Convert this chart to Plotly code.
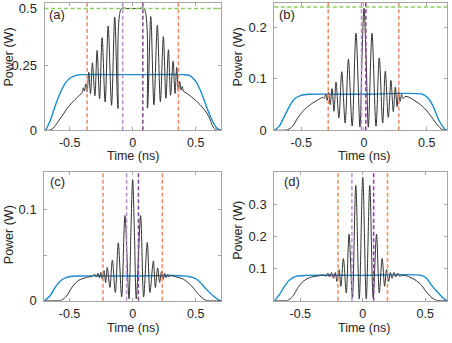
import plotly.graph_objects as go

W, H = 452, 343

# ---------------- data ----------------
# panel (a)
A_bt = [-0.70, -0.66, -0.64, -0.62, -0.59, -0.55, -0.51, -0.46, -0.42, -0.40,
        -0.392, -0.383, -0.373, -0.362, -0.349, -0.335, -0.320, -0.300, -0.283, -0.263, -0.243, -0.219, -0.195, -0.168, -0.143, -0.117,
        -0.090, -0.045, 0.0, 0.045, 0.090,
        0.117, 0.143, 0.168, 0.195, 0.219, 0.243, 0.263, 0.283, 0.300, 0.320, 0.335, 0.349, 0.362, 0.373, 0.383, 0.393, 0.402,
        0.43, 0.48, 0.534, 0.587, 0.61, 0.627, 0.645, 0.66, 0.68, 0.70]
A_bp = [0, 0, 0.004, 0.014, 0.035, 0.063, 0.092, 0.118, 0.137, 0.147,
        0.165, 0.152, 0.180, 0.150, 0.225, 0.142, 0.262, 0.134, 0.310, 0.123, 0.360, 0.110, 0.405, 0.097, 0.440, 0.084,
        0.473, 0.473, 0.473, 0.473, 0.473,
        0.086, 0.442, 0.099, 0.408, 0.111, 0.364, 0.124, 0.313, 0.136, 0.269, 0.143, 0.244, 0.152, 0.190, 0.156, 0.170, 0.152,
        0.143, 0.124, 0.099, 0.067, 0.045, 0.023, 0.008, 0.001, 0, 0]
A_ct = [-0.70, -0.69, -0.656, -0.617, -0.577, -0.537, -0.497, -0.45, -0.40, 0.0, 0.40, 0.45, 0.50, 0.545, 0.59, 0.63, 0.665, 0.695, 0.70]
A_cp = [0, 0.002, 0.036, 0.092, 0.143, 0.181, 0.203, 0.213, 0.216, 0.216, 0.216, 0.213, 0.19, 0.145, 0.085, 0.038, 0.01, 0, 0]

# panel (b)
B_bt = [-0.715, -0.64, -0.608, -0.568, -0.528, -0.475, -0.409, -0.36, -0.33,
        -0.316, -0.305, -0.294, -0.283, -0.269, -0.255, -0.239, -0.223, -0.200, -0.177, -0.150, -0.124, -0.094, -0.064, -0.032,
        -0.016, 0.0, 0.017,
        0.035, 0.064, 0.096, 0.122, 0.149, 0.170, 0.194, 0.215, 0.234, 0.250, 0.264, 0.276, 0.288, 0.300, 0.31,
        0.335, 0.415, 0.482, 0.535, 0.574, 0.614, 0.64, 0.665]
B_bp = [0, 0, 0.001, 0.008, 0.024, 0.040, 0.053, 0.060, 0.064,
        0.062, 0.070, 0.058, 0.074, 0.050, 0.081, 0.037, 0.094, 0.024, 0.114, 0.014, 0.138, 0.008, 0.189, 0.006,
        0.140, 0.238, 0.140,
        0.006, 0.189, 0.008, 0.141, 0.014, 0.115, 0.025, 0.097, 0.036, 0.084, 0.046, 0.075, 0.056, 0.07, 0.062,
        0.066, 0.056, 0.043, 0.027, 0.014, 0.003, 0, 0]
B_ct = [-0.715, -0.675, -0.635, -0.595, -0.555, -0.502, -0.44, 0.0, 0.468, 0.51, 0.547, 0.600, 0.635, 0.653, 0.665]
B_cp = [0, 0.008, 0.027, 0.046, 0.061, 0.068, 0.070, 0.070, 0.070, 0.063, 0.049, 0.018, 0.005, 0, 0]

# panel (c)
C_bt = [-0.70, -0.60, -0.563, -0.524, -0.484, -0.431, -0.365, -0.32,
        -0.30, -0.288, -0.275, -0.263, -0.252, -0.240, -0.227, -0.214, -0.201, -0.180, -0.161, -0.137, -0.114, -0.087, -0.061, -0.029,
        -0.014, 0.0, 0.014,
        0.029, 0.063, 0.087, 0.116, 0.137, 0.164, 0.180, 0.198, 0.214, 0.229, 0.242, 0.254, 0.266, 0.278, 0.290, 0.302,
        0.322, 0.402, 0.468, 0.521, 0.574, 0.60, 0.70]
C_bp = [0, 0, 0.0005, 0.005, 0.014, 0.022, 0.0255, 0.027,
        0.029, 0.026, 0.030, 0.025, 0.031, 0.0235, 0.033, 0.020, 0.0364, 0.0145, 0.0446, 0.009, 0.0636, 0.004, 0.0935, 0.002,
        0.075, 0.133, 0.075,
        0.002, 0.0935, 0.004, 0.064, 0.009, 0.0436, 0.0145, 0.036, 0.020, 0.032, 0.0235, 0.030, 0.025, 0.029, 0.026, 0.028,
        0.027, 0.0235, 0.016, 0.007, 0.0007, 0, 0]
C_ct = [-0.70, -0.656, -0.617, -0.577, -0.524, -0.445, 0.0, 0.428, 0.508, 0.574, 0.640, 0.693, 0.70]
C_cp = [0, 0.005, 0.014, 0.021, 0.0255, 0.027, 0.027, 0.027, 0.0235, 0.014, 0.005, 0, 0]

# panel (d)
D_bt = [-0.708, -0.62, -0.60, -0.561, -0.521, -0.481, -0.428, -0.348, -0.31,
        -0.295, -0.28, -0.265, -0.25, -0.235, -0.22, -0.207, -0.19, -0.175, -0.155, -0.132, -0.11, -0.083, -0.056, -0.028,
        0.0,
        0.028, 0.056, 0.083, 0.11, 0.132, 0.155, 0.175, 0.19, 0.207, 0.22, 0.235, 0.25, 0.265, 0.28, 0.295,
        0.31, 0.348, 0.385, 0.43, 0.47, 0.50, 0.53, 0.56, 0.59, 0.61, 0.675]
D_bp = [0, 0, 0.001, 0.013, 0.039, 0.059, 0.072, 0.078, 0.080,
        0.076, 0.086, 0.074, 0.088, 0.07, 0.088, 0.06, 0.097, 0.045, 0.132, 0.024, 0.208, 0.009, 0.361, 0.005,
        0.386,
        0.005, 0.361, 0.009, 0.208, 0.024, 0.132, 0.045, 0.097, 0.06, 0.088, 0.07, 0.088, 0.074, 0.086, 0.076,
        0.079, 0.078, 0.072, 0.062, 0.048, 0.032, 0.018, 0.007, 0.001, 0, 0]
D_ct = [-0.708, -0.668, -0.628, -0.588, -0.535, -0.455, 0.0, 0.47, 0.51, 0.545, 0.599, 0.652, 0.675]
D_cp = [0, 0.018, 0.044, 0.064, 0.076, 0.079, 0.079, 0.079, 0.07, 0.051, 0.026, 0.005, 0]

# marker lines
A_orange = [-0.362, 0.362]; A_purple = [-0.08, 0.08]; A_green = 0.473
B_orange = [-0.285, 0.278]; B_purple = [-0.02, 0.015]; B_green = 0.240
C_orange = [-0.235, 0.235]; C_purple = [-0.048, 0.046]; C_green = None
D_orange = [-0.198, 0.198]; D_purple = [-0.087, 0.087]; D_green = None

# axis setup
X_TICKS = [-0.5, 0, 0.5]
X_TEXT = ["-0.5", "0", "0.5"]
A_yt = [0, 0.25, 0.473]; A_ytxt = ["0", "0.25", "0.5"]
B_yt = [0, 0.1, 0.2]; B_ytxt = ["0", "0.1", "0.2"]
C_yt = [0, 0.05, 0.1]; C_ytxt = ["0", "", "0.1"]
D_yt = [0, 0.1, 0.2, 0.3]; D_ytxt = ["", "0.1", "0.2", "0.3"]

panels = [
    dict(lab="(a)", bt=A_bt, bp=A_bp, ct=A_ct, cp=A_cp, orange=A_orange, purple=A_purple, green=A_green,
         xr=[-0.70, 0.70], yr=[0, 0.496], yt=A_yt, ytxt=A_ytxt,
         px=(44.5, 221), py=(1.7, 132.7), labpos=(57, 14), ylab=(9, 58), xlab=(133, 159.5)),
    dict(lab="(b)", bt=B_bt, bp=B_bp, ct=B_ct, cp=B_cp, orange=B_orange, purple=B_purple, green=B_green,
         xr=[-0.715, 0.662], yr=[0, 0.2486], yt=B_yt, ytxt=B_ytxt,
         px=(274.3, 447), py=(1.7, 132.7), labpos=(286.5, 13.5), ylab=(238, 58), xlab=(364, 159.5)),
    dict(lab="(c)", bt=C_bt, bp=C_bp, ct=C_ct, cp=C_cp, orange=C_orange, purple=C_purple, green=C_green,
         xr=[-0.70, 0.70], yr=[0, 0.1413], yt=C_yt, ytxt=C_ytxt,
         px=(44.3, 221), py=(175.7, 307.7), labpos=(57, 185), ylab=(8.5, 240), xlab=(133, 335.5)),
    dict(lab="(d)", bt=D_bt, bp=D_bp, ct=D_ct, cp=D_cp, orange=D_orange, purple=D_purple, green=D_green,
         xr=[-0.708, 0.674], yr=[0, 0.4015], yt=D_yt, ytxt=D_ytxt,
         px=(274.3, 447), py=(176, 307.7), labpos=(291.5, 185), ylab=(238, 236), xlab=(364, 335.5)),
]

FONT = "Liberation Sans, Arial, sans-serif"
TXT = "#262626"
AXC = "#a6a6a6"
BLACK = "#333333"
BLUE = "#1a8ad2"
ORANGE = "#f28a5c"
PURPLE_L = "#b98ad9"
PURPLE_D = "#8a3d9e"
GREEN = "#8ccf5f"

fig = go.Figure()
shapes = []
annotations = []
layout = {}

for i, p in enumerate(panels):
    n = "" if i == 0 else str(i + 1)
    xa, ya = "x" + n, "y" + n
    fig.add_trace(go.Scatter(x=p["ct"], y=p["cp"], mode="lines", xaxis=xa, yaxis=ya,
                             line=dict(color=BLUE, width=1.4, shape="spline", smoothing=0.8),
                             hoverinfo="skip", showlegend=False))
    fig.add_trace(go.Scatter(x=p["bt"], y=p["bp"], mode="lines", xaxis=xa, yaxis=ya,
                             line=dict(color=BLACK, width=1.0, shape="spline", smoothing=0.9),
                             hoverinfo="skip", showlegend=False))
    x0, x1 = p["px"]; y0, y1 = p["py"]
    layout["xaxis" + n] = dict(domain=[x0 / W, x1 / W], range=p["xr"], anchor=ya,
                               tickvals=X_TICKS, ticktext=X_TEXT, ticks="inside", ticklen=3,
                               tickcolor=AXC, showline=True, linecolor=AXC, linewidth=1, mirror="ticks",
                               showgrid=False, zeroline=False, fixedrange=True, ticklabelstandoff=1,
                               tickfont=dict(family=FONT, size=12.5, color=TXT))
    layout["yaxis" + n] = dict(domain=[1 - y1 / H, 1 - y0 / H], range=p["yr"], anchor=xa,
                               tickvals=p["yt"], ticktext=p["ytxt"], ticks="inside", ticklen=3,
                               tickcolor=AXC, showline=True, linecolor=AXC, linewidth=1, mirror="ticks",
                               showgrid=False, zeroline=False, fixedrange=True, ticklabelstandoff=4,
                               tickfont=dict(family=FONT, size=13, color=TXT))
    for t in p["orange"]:
        shapes.append(dict(type="line", xref=xa, yref=ya + " domain", x0=t, x1=t, y0=0, y1=1,
                           line=dict(color=ORANGE, width=1.5, dash="4px,2.5px")))
    for k, t in enumerate(p["purple"]):
        shapes.append(dict(type="line", xref=xa, yref=ya + " domain", x0=t, x1=t, y0=0, y1=1,
                           line=dict(color=PURPLE_L if k == 0 else PURPLE_D, width=1.5, dash="4px,2.5px")))
    if p["green"] is not None:
        shapes.append(dict(type="line", xref=xa + " domain", yref=ya, x0=0, x1=1, y0=p["green"], y1=p["green"],
                           line=dict(color=GREEN, width=1.5, dash="4px,2.5px")))
    lx, ly = p["labpos"]
    annotations.append(dict(text=p["lab"], xref="paper", yref="paper", x=lx / W, y=1 - ly / H,
                            xanchor="center", yanchor="middle", showarrow=False, borderpad=0,
                            font=dict(family=FONT, size=13, color=TXT)))
    tx, ty = p["xlab"]
    annotations.append(dict(text="Time (ns)", xref="paper", yref="paper", x=tx / W, y=1 - ty / H,
                            xanchor="center", yanchor="middle", showarrow=False, borderpad=0,
                            font=dict(family=FONT, size=12.5, color=TXT)))
    yx, yy = p["ylab"]
    annotations.append(dict(text="Power (W)", xref="paper", yref="paper", x=yx / W, y=1 - yy / H,
                            xanchor="center", yanchor="middle", showarrow=False, textangle=-90, borderpad=0,
                            font=dict(family=FONT, size=12.5, color=TXT)))

fig.update_layout(width=W, height=H, margin=dict(l=0, r=0, t=0, b=0),
                  paper_bgcolor="white", plot_bgcolor="white",
                  shapes=shapes, annotations=annotations, **layout)

fig.write_html("out.html", config={"displayModeBar": False, "staticPlot": True},
               post_script="document.body.style.margin='0';document.body.style.padding='0';document.body.style.overflow='hidden';")
